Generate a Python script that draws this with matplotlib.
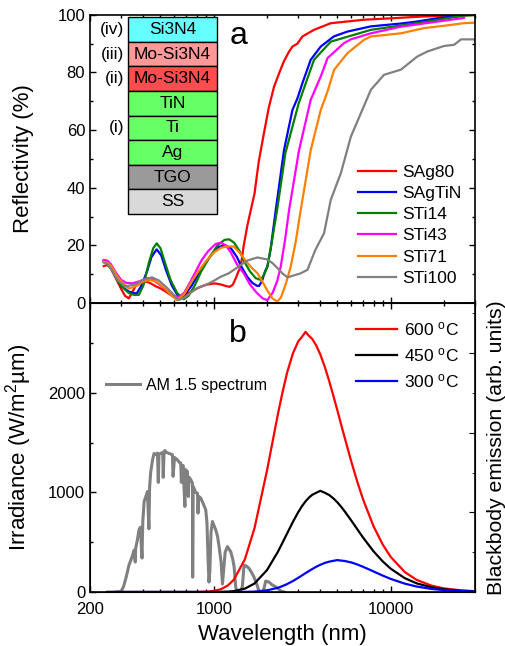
import matplotlib
matplotlib.use("Agg")
import matplotlib.pyplot as plt
from matplotlib.patches import Rectangle
from matplotlib.ticker import LogLocator, NullFormatter, MultipleLocator

plt.rcParams['font.family'] = ['Liberation Sans', 'DejaVu Sans']
plt.rcParams['mathtext.fontset'] = 'custom'
plt.rcParams['mathtext.rm'] = 'Liberation Sans'
plt.rcParams['mathtext.it'] = 'Liberation Sans:italic'

# ---- panel a: reflectivity (wavelength nm, R %) ----
sag80_wl = [239, 250, 262, 280, 299, 315, 331, 345, 362, 387, 418, 440, 470, 502, 540, 580,
            626, 680, 740, 800, 900, 1013, 1100, 1169, 1230, 1280, 1330, 1380, 1420, 1478,
            1550, 1630, 1700, 1795, 1922, 2050, 2190, 2350, 2497, 2650, 2785, 2970, 3170,
            3686, 4585, 7049, 10000, 15000, 22000, 30000]
sag80_r = [12.8, 13.2, 12.0, 8.5, 5.0, 2.5, 1.6, 3.5, 6.0, 6.9, 7.4, 6.8, 5.8, 5.0, 3.8, 2.5,
           1.6, 2.5, 3.8, 5.0, 6.3, 6.8, 6.4, 5.9, 5.6, 6.3, 8.5, 11.0, 12.6, 20.0,
           27.0, 33.0, 38.0, 49.0, 59.0, 68.0, 75.0, 80.0, 84.0, 87.0, 89.0, 90.0, 92.5,
           94.8, 97.1, 98.3, 98.8, 99.4, 99.7, 100.0]

sagtin_wl = [239, 250, 262, 280, 302, 330, 350, 367, 390, 420, 445, 476, 505, 540, 580, 620,
             648, 690, 750, 820, 900, 980, 1060, 1150, 1250, 1350, 1450, 1550, 1650, 1750,
             1803, 1870, 1950, 2009, 2100, 2240, 2494, 2784, 2970, 3170, 3530, 4024, 4766,
             5695, 7727, 11432, 14100, 19260, 25000]
sagtin_r = [14.7, 14.5, 13.0, 9.0, 5.7, 4.0, 3.5, 3.3, 6.0, 11.0, 16.0, 18.6, 16.5, 11.0,
            6.0, 3.0, 2.0, 3.0, 6.0, 10.0, 14.0, 17.0, 19.3, 20.1, 19.0, 16.0, 12.0, 9.0,
            7.0, 6.0, 5.9, 7.5, 11.0, 12.6, 19.0, 32.2, 53.0, 67.0, 71.0, 76.3, 84.4,
            89.0, 92.5, 94.2, 96.0, 97.0, 97.7, 99.0, 99.6]

sti14_wl = [239, 250, 262, 280, 299, 330, 355, 377, 400, 430, 455, 476, 500, 530, 570, 620,
            677, 720, 780, 850, 950, 1050, 1150, 1220, 1300, 1400, 1500, 1600, 1727, 1843,
            1930, 2009, 2100, 2290, 2540, 3020, 3686, 4585, 7727, 14100, 25000, 30000]
sti14_r = [14.5, 14.0, 13.0, 9.0, 6.0, 3.5, 2.8, 2.8, 6.0, 14.0, 19.0, 20.7, 19.0, 14.0,
           8.0, 3.5, 1.3, 2.5, 6.0, 11.0, 16.0, 20.0, 21.9, 22.1, 21.0, 18.0, 14.0, 11.0,
           8.6, 8.0, 10.0, 12.6, 19.0, 33.0, 52.0, 69.3, 84.4, 90.7, 94.8, 97.1, 99.6, 100.0]

sti43_wl = [239, 250, 262, 280, 300, 320, 345, 380, 420, 450, 490, 540, 590, 634, 680, 740,
            800, 855, 930, 1026, 1095, 1170, 1250, 1350, 1477, 1600, 1750, 1900, 2009, 2150,
            2280, 2390, 2530, 2664, 3033, 3531, 4024, 4396, 5447, 5952, 7727, 11432, 25000,
            26000]
sti43_r = [14.9, 14.7, 13.5, 10.5, 8.0, 7.0, 6.8, 7.5, 8.6, 8.3, 6.5, 4.5, 2.7, 2.0, 3.5,
           7.5, 11.5, 14.9, 18.0, 20.5, 20.9, 20.0, 17.5, 13.5, 10.3, 6.5, 3.5, 1.5, 1.0,
           3.5, 7.5, 12.6, 22.0, 32.2, 53.0, 70.5, 78.6, 85.0, 90.2, 91.5, 93.6, 95.9,
           98.8, 99.0]

sti71_wl = [239, 250, 262, 290, 331, 370, 400, 439, 480, 530, 580, 618, 680, 750, 820, 898,
            1000, 1100, 1200, 1297, 1400, 1500, 1620, 1766, 1900, 2000, 2150, 2290, 2400,
            2550, 2722, 2900, 3100, 3531, 4024, 4396, 4785, 5695, 7049, 7727, 11432, 15420,
            21830, 25800, 30000]
sti71_r = [14.3, 14.0, 13.0, 8.5, 5.0, 6.0, 7.5, 8.0, 7.2, 5.0, 2.5, 1.0, 3.0, 7.5, 11.0,
           14.3, 17.5, 19.2, 19.6, 19.6, 17.5, 15.0, 12.5, 10.3, 7.0, 4.5, 1.5, 0.5, 2.0,
           6.5, 12.6, 21.0, 32.2, 53.0, 67.0, 73.4, 80.9, 86.7, 91.3, 92.5, 93.6, 95.4,
           96.5, 97.1, 97.3]

sti100_wl = [239, 250, 262, 285, 317, 360, 400, 448, 490, 550, 600, 634, 680, 750, 820, 898,
             1000, 1095, 1215, 1320, 1420, 1560, 1766, 2009, 2150, 2300, 2450, 2610, 2850,
             3100, 3385, 3750, 4200, 4585, 5224, 5952, 7727, 9170, 11432, 14100, 16130,
             20000, 22790, 25000, 30200]
sti100_r = [14.0, 13.6, 12.0, 8.0, 5.7, 6.5, 8.0, 8.9, 7.8, 5.0, 2.5, 1.0, 1.8, 3.8, 5.4,
            6.2, 7.7, 9.1, 10.3, 11.8, 13.2, 14.8, 15.8, 15.1, 13.8, 12.0, 10.2, 8.9, 9.6,
            10.3, 11.5, 18.4, 24.2, 35.8, 45.0, 57.7, 74.0, 79.2, 81.0, 85.5, 87.3,
            89.2, 89.6, 91.5, 91.5]

refl_series = [
    ("SAg80", sag80_wl, sag80_r, "#ff0000"),
    ("SAgTiN", sagtin_wl, sagtin_r, "#0000ff"),
    ("STi14", sti14_wl, sti14_r, "#008000"),
    ("STi43", sti43_wl, sti43_r, "#ff00ff"),
    ("STi71", sti71_wl, sti71_r, "#ff8000"),
    ("STi100", sti100_wl, sti100_r, "#808080"),
]

# layer stack in the inset (top to bottom)
layers = ["Si3N4", "Mo-Si3N4", "Mo-Si3N4", "TiN", "Ti", "Ag", "TGO", "SS"]
layer_colors = ["#66ffff", "#ff9999", "#ff4d4d", "#66ff66", "#66ff66", "#66ff66",
                "#9a9a9a", "#d9d9d9"]
layer_tags = ["(iv)", "(iii)", "(ii)", "", "(i)", "", "", ""]

# ---- panel b: AM 1.5 spectrum and blackbody emission ----
am_wl = [280, 300, 310, 320, 332, 345, 355, 360, 362, 370, 378, 385, 393, 397, 404, 412,
         422, 430, 434, 440, 451, 460, 470, 481, 486, 490, 500, 515, 518, 524, 530, 540,
         560, 584, 589, 600, 620, 640, 651, 656, 670, 687, 690, 710, 718, 725, 740, 758,
         760, 765, 790, 809, 815, 822, 845, 870, 901, 915, 930, 940, 950, 965, 983, 1026,
         1050, 1072, 1100, 1120, 1135, 1160, 1195, 1247, 1280, 1303, 1331, 1350, 1400,
         1450, 1484, 1530, 1583, 1630, 1684, 1750, 1800, 1870, 1920, 1967, 2050, 2143,
         2250, 2400, 2500]
am_irr = [0, 5, 60, 150, 271, 350, 420, 300, 439, 520, 623, 650, 340, 700, 908, 950,
          1008, 634, 1050, 1200, 1327, 1390, 1380, 1394, 1100, 1380, 1390, 1400, 1150,
          1407, 1420, 1400, 1390, 1377, 1160, 1350, 1330, 1300, 1293, 1100, 1270, 858,
          1230, 1209, 958, 1150, 1130, 1092, 149, 1060, 1000, 991, 791, 960, 941, 890,
          824, 700, 300, 100, 200, 600, 707, 623, 560, 455, 300, 80, 200, 400, 455, 404,
          330, 254, 50, 5, 0, 50, 270, 260, 237, 200, 154, 80, 10, 0, 30, 110, 100, 70,
          50, 10, 0]

bb_wl = [250, 500, 800, 900, 1000, 1100, 1200, 1300, 1500, 1700, 2000, 2300, 2450, 2600,
         2800, 3000, 3150, 3300, 3450, 3600, 3800, 4000, 4250, 4500, 4750, 5000, 5250,
         5500, 6000, 6500, 7000, 8000, 9000, 10000, 12000, 14000, 17000, 20000, 25000,
         30000]
bb_600 = [0, 0, 0.2, 2.8, 10.3, 28.6, 64.6, 124, 329, 642, 1220, 1778, 2009, 2204,
          2393, 2514, 2560, 2610, 2570, 2540, 2471, 2384, 2254, 2111, 1964, 1820, 1678,
          1546, 1303, 1096, 923, 659, 478, 352, 201, 122, 64, 36, 16, 8.3]
bb_450 = [0, 0, 0, 0, 0.3, 1.3, 3.7, 8.9, 33.6, 85.5, 220, 401, 497, 589,
          703, 800, 861, 909, 947, 975, 996, 1015, 995, 972, 938, 899, 855,
          808, 715, 625, 543, 408, 308, 234, 139, 87, 47, 27, 12.4, 6.4]
bb_300 = [0, 0, 0, 0, 0, 0, 0, 0.05, 1.05, 4.0, 16.4, 41.9, 59.7, 80,
          110, 142, 166, 189, 210, 230, 254, 273, 292, 305, 313, 320, 315,
          311, 296, 275, 252, 206, 165, 131.5, 84, 55, 31, 18.5, 8.8, 4.7]

bb_series = [
    ("600 $^\\mathrm{o}$C", bb_600, "#ff0000"),
    ("450 $^\\mathrm{o}$C", bb_450, "#000000"),
    ("300 $^\\mathrm{o}$C", bb_300, "#0000ff"),
]

fig = plt.figure(figsize=(5.06, 6.46), dpi=100)
ax1 = fig.add_axes([0.178, 0.531, 0.761, 0.446])
ax2 = fig.add_axes([0.178, 0.0836, 0.761, 0.4474], sharex=ax1)

for ax in (ax1, ax2):
    ax.set_xscale('log')
    ax.set_xlim(200, 30000)
    for s in ax.spines.values():
        s.set_linewidth(1.2)
    ax.tick_params(which='both', direction='in', top=True, labelsize=12, width=1)
    ax.tick_params(which='major', length=4.5)
    ax.tick_params(which='minor', length=2.5)
    ax.tick_params(axis='x', pad=7)
    ax.xaxis.set_minor_locator(LogLocator(base=10, subs=range(2, 10), numticks=20))
    ax.xaxis.set_minor_formatter(NullFormatter())

# panel a
for name, wl, r, col in refl_series:
    ax1.plot(wl, r, color=col, lw=1.6, label=name)
ax1.set_ylim(0, 100)
ax1.yaxis.set_major_locator(MultipleLocator(20))
ax1.yaxis.set_minor_locator(MultipleLocator(10))
ax1.tick_params(which='both', right=True, labelbottom=False)
ax1.set_ylabel('Reflectivity (%)', fontsize=16)
ax1.yaxis.set_label_coords(-0.145, 0.5)
ax1.text(0.385, 0.925, 'a', transform=ax1.transAxes, fontsize=23, ha='center', va='center')
ax1.legend(loc='center left', bbox_to_anchor=(0.695, 0.27), frameon=False, fontsize=12.5,
           handlelength=2.2, handletextpad=0.35, labelspacing=0.35, borderpad=0,
           borderaxespad=0)

bx0, bx1 = 0.0987, 0.33
by_top, bh = 0.992, 0.0854
for i, (lab, col, tag) in enumerate(zip(layers, layer_colors, layer_tags)):
    y0 = by_top - (i + 1) * bh
    ax1.add_patch(Rectangle((bx0, y0), bx1 - bx0, bh, transform=ax1.transAxes,
                            facecolor=col, edgecolor='black', lw=1.0, zorder=5))
    ax1.text((bx0 + bx1) / 2, y0 + bh / 2, lab, transform=ax1.transAxes, ha='center',
             va='center', fontsize=12.5, zorder=6)
    if tag:
        ax1.text(bx0 - 0.01, y0 + bh / 2, tag, transform=ax1.transAxes, ha='right',
                 va='center', fontsize=12.5)

# panel b
am_line, = ax2.plot(am_wl, am_irr, color='#808080', lw=2.2, label='AM 1.5 spectrum')
bb_lines = []
for name, vals, col in bb_series:
    ln, = ax2.plot(bb_wl, vals, color=col, lw=1.6, label=name)
    bb_lines.append(ln)
ax2.set_ylim(0, 2900)
ax2.yaxis.set_major_locator(MultipleLocator(1000))
ax2.yaxis.set_minor_locator(MultipleLocator(500))
ax2.tick_params(which='both', right=False)
ax2.set_xticks([200, 1000, 10000])
ax2.set_xticklabels(['200', '1000', '10000'])
ax2.set_xlabel('Wavelength (nm)', fontsize=16, labelpad=5)
ax2.set_ylabel('Irradiance (W/m$^2$µm)', fontsize=16)
ax2.yaxis.set_label_coords(-0.145, 0.5)
ax2.text(0.385, 0.893, 'b', transform=ax2.transAxes, fontsize=23, ha='center', va='center')

leg_bb = ax2.legend(handles=bb_lines, loc='center left', bbox_to_anchor=(0.69, 0.82),
                    frameon=False, fontsize=12.5, handlelength=2.4, handletextpad=0.35,
                    labelspacing=0.45, borderpad=0, borderaxespad=0)
ax2.add_artist(leg_bb)
ax2.legend(handles=[am_line], loc='center left', bbox_to_anchor=(0.042, 0.716),
           frameon=False, fontsize=11.5, handlelength=2.1, handletextpad=0.4,
           borderpad=0, borderaxespad=0)

ax3 = ax2.twinx()
ax3.set_ylim(0, 3.63)
ax3.yaxis.set_major_locator(MultipleLocator(1))
ax3.yaxis.set_minor_locator(MultipleLocator(0.5))
ax3.tick_params(which='both', direction='in', labelright=False)
ax3.tick_params(which='major', length=4.5)
ax3.tick_params(which='minor', length=2.5)
ax3.set_ylabel('Blackbody emission (arb. units)', fontsize=15.3)
ax3.yaxis.set_label_coords(1.031, 0.5)

plt.savefig('out.png', dpi=100)
